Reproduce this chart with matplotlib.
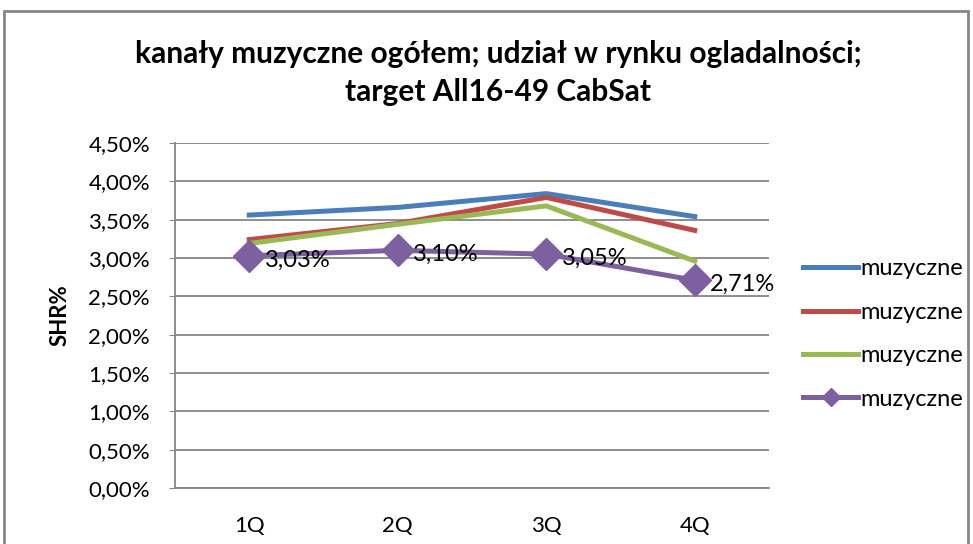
import matplotlib.pyplot as plt
from matplotlib.patches import Rectangle
from matplotlib.ticker import FuncFormatter

quarters = ["1Q", "2Q", "3Q", "4Q"]
series_names = ["muzyczne", "muzyczne", "muzyczne", "muzyczne"]
blue = [3.56, 3.66, 3.84, 3.54]
red = [3.24, 3.45, 3.79, 3.36]
green = [3.19, 3.44, 3.68, 2.96]
purple = [3.03, 3.10, 3.05, 2.71]
yticks = [0.0, 0.5, 1.0, 1.5, 2.0, 2.5, 3.0, 3.5, 4.0, 4.5]

plt.rcParams['font.family'] = ['Lato', 'DejaVu Sans']

fig = plt.figure(figsize=(9.73, 5.44), dpi=100)
ax = fig.add_axes([175 / 973, 1 - 488 / 544, 594 / 973, 345 / 544])

x = range(len(quarters))
ax.plot(x, blue, color='#4a7ebb', linewidth=3.6, label=series_names[0])
ax.plot(x, red, color='#be4b48', linewidth=3.6, label=series_names[1])
ax.plot(x, green, color='#98b954', linewidth=3.6, label=series_names[2])
ax.plot(x, purple, color='#7d60a0', linewidth=3.6, marker='D', markersize=16,
        label=series_names[3])

# data labels for the last series
for i, v in enumerate(purple):
    ax.annotate(("%.2f%%" % v).replace('.', ','), (i, v), xytext=(11, -3),
                textcoords='offset points', ha='left', va='center', fontsize=17)

ax.set_xlim(-0.5, 3.5)
ax.set_ylim(0, 4.5)
ax.set_xticks(list(x))
ax.set_xticklabels(quarters)
ax.set_yticks(yticks)
ax.yaxis.set_major_formatter(FuncFormatter(lambda v, p: ("%.2f%%" % v).replace('.', ',')))
ax.grid(axis='y', color='#868686', linewidth=1.3)
ax.set_axisbelow(True)
for s in ['top', 'right']:
    ax.spines[s].set_visible(False)
ax.spines['left'].set_color('#868686')
ax.spines['bottom'].set_color('#868686')
ax.spines['left'].set_linewidth(1.3)
ax.spines['bottom'].set_linewidth(1.3)
ax.tick_params(axis='y', labelsize=16, length=4, color='#868686', pad=14)
ax.tick_params(axis='x', labelsize=16, length=0, pad=20)

fig.text(60 / 973, 1 - 315 / 544, "SHR%", rotation=90, ha='center', va='center',
         fontsize=16, fontweight='bold')
fig.text(498 / 973, 1 - 73 / 544, "kanały muzyczne ogółem; udział w rynku ogladalności;\ntarget All16-49 CabSat",
         ha='center', va='center', fontsize=21.5, fontweight='bold', linespacing=1.45)

fig.legend(loc='center left', bbox_to_anchor=(803 / 973, 1 - 334 / 544), frameon=False,
           fontsize=17, handlelength=2.35, handletextpad=0.1, labelspacing=0.95,
           borderpad=0, borderaxespad=0, markerscale=0.6)

# chart border
fig.add_artist(Rectangle((4 / 973, -0.1), 964 / 973, 1.1 - 11 / 544, transform=fig.transFigure,
                         fill=False, edgecolor='#868686', linewidth=2))

fig.savefig("out.png", dpi=100)
